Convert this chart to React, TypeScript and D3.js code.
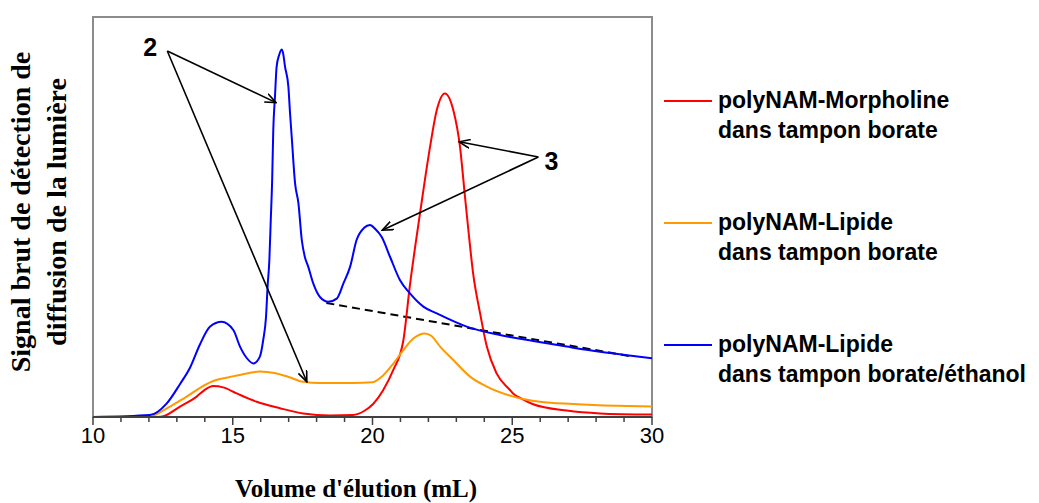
import React from "react";
import * as d3 from "d3";

// ---- data (elution volume in mL, raw light-scattering signal in arbitrary units 0..100) ----
const xTicksMajor = [10, 15, 20, 25, 30];
const xTicksMinor = d3.range(10, 31, 1);

const morpholineBorateVol = [12.3, 12.52, 13.11, 13.71, 14.0, 14.3, 14.66, 15.14, 15.86, 16.69, 17.52, 18.48, 19.3, 19.7, 20.03, 20.38, 20.74, 21.1, 21.34, 21.7, 22.06, 22.3, 22.59, 22.89, 23.13, 23.31, 23.43, 23.6, 23.85, 24.09, 24.44, 24.92, 25.04, 25.28, 25.75, 26.95, 28.14, 30];
const morpholineBorateSig = [0, 0.2, 2.6, 5.1, 6.8, 7.75, 7.4, 5.9, 3.8, 2.2, 0.9, 0.4, 0.5, 1.5, 3.3, 6.7, 11.7, 19, 33, 50.9, 67.6, 76.75, 80.9, 76.75, 67.6, 55, 46.75, 35.9, 25.9, 17.6, 10.9, 6.75, 5.8, 4.8, 3.2, 1.6, 0.9, 0.6];

const lipideBorateVol = [12.1, 12.75, 13.35, 13.83, 14.3, 14.9, 15.5, 15.97, 16.5, 17.0, 17.52, 18.12, 19.3, 20.0, 20.38, 20.74, 21.1, 21.46, 21.88, 22.1, 22.42, 22.89, 23.49, 24.09, 25.04, 25.99, 27.18, 28.73, 30];
const lipideBorateSig = [0, 2.6, 5.1, 7.3, 9, 10, 10.9, 11.4, 11, 10, 8.8, 8.5, 8.5, 8.7, 10.4, 13.3, 16.7, 19.6, 20.9, 20.3, 17.6, 14.25, 10.1, 7.6, 5.1, 3.8, 3.25, 2.8, 2.6];

const lipideEthanolVol = [10, 12.04, 12.64, 13.11, 13.47, 13.83, 14.19, 14.6, 15.02, 15.26, 15.5, 15.74, 15.97, 16.09, 16.19, 16.25, 16.31, 16.36, 16.41, 16.45, 16.51, 16.57, 16.66, 16.75, 16.8, 16.87, 16.99, 17.05, 17.11, 17.23, 17.35, 17.47, 17.58, 17.7, 17.88, 18.12, 18.42, 18.72, 18.96, 19.2, 19.43, 19.7, 19.91, 20.1, 20.33, 20.63, 20.98, 21.34, 21.82, 22.3, 23.37, 24.56, 25.75, 26.95, 28.14, 29.33, 30];
const lipideEthanolSig = [0, 0.5, 3.4, 8.2, 12.3, 18.2, 22.6, 23.8, 21.75, 17.6, 14.75, 13.4, 15.1, 19.25, 25, 33, 39.25, 49.25, 59.25, 71.75, 80, 87.6, 90.5, 91.9, 91, 87.6, 82.6, 75.9, 70, 58.4, 53.4, 44.25, 40, 37.6, 33.4, 30, 28.8, 29.6, 33.4, 37.6, 44.25, 47.3, 48, 47, 45, 40, 34.25, 30.9, 27.6, 25.9, 22.6, 20.5, 19.0, 17.6, 16.3, 15.25, 14.7];

const baselineVol = [18.35, 29.3];
const baselineSig = [28.5, 15.1];

const seriesNames = [
  ["polyNAM-Morpholine", "dans tampon borate"],
  ["polyNAM-Lipide", "dans tampon borate"],
  ["polyNAM-Lipide", "dans tampon borate/éthanol"],
];
const seriesColors = ["#FF0000", "#FF9900", "#0000FF"];

// annotation anchors (data coordinates)
const label2 = { text: "2", vol: 12.05, sig: 92.5 };
const arrows2 = [
  { vol: 16.55, sig: 78.6 },
  { vol: 17.65, sig: 8.8 },
];
const label3 = { text: "3", vol: 26.4, sig: 64 };
const arrows3 = [
  { vol: 23.1, sig: 68.8 },
  { vol: 20.35, sig: 46.7 },
];

const W = 1039;
const H = 503;
const M = { left: 93, right: 652, top: 17, bottom: 417 };

export default function App() {
  const x = d3.scaleLinear().domain([10, 30]).range([M.left, M.right]);
  const y = d3.scaleLinear().domain([0, 100]).range([M.bottom, M.top]);

  const line = d3
    .line<[number, number]>()
    .x((d) => x(d[0]))
    .y((d) => y(d[1]))
    .curve(d3.curveMonotoneX);

  const zip = (a: number[], b: number[]) => a.map((v, i) => [v, b[i]] as [number, number]);

  const curves = [
    zip(morpholineBorateVol, morpholineBorateSig),
    zip(lipideBorateVol, lipideBorateSig),
    zip(lipideEthanolVol, lipideEthanolSig),
  ];

  const sans = "'Liberation Sans', Arial, sans-serif";
  const serif = "'Liberation Serif', 'Times New Roman', serif";

  const l2x = x(label2.vol);
  const l2y = y(label2.sig);
  const a2sx = l2x + 17;
  const a2sy = l2y + 4;
  const l3x = x(label3.vol);
  const l3y = y(label3.sig);
  const a3sx = l3x - 13;
  const a3sy = l3y - 4;

  const legendY = [101, 223, 345];

  return (
    <svg
      width={W}
      height={H}
      style={{ position: "absolute", left: 0, top: 0, background: "#fff" }}
    >
      <defs>
        <marker
          id="arr"
          viewBox="0 0 12 10"
          refX="11"
          refY="5"
          markerWidth="12"
          markerHeight="10"
          markerUnits="userSpaceOnUse"
          orient="auto"
        >
          <path d="M0,0.5 L11,5 L0,9.5" fill="none" stroke="#000" strokeWidth="1.6" />
        </marker>
        <clipPath id="plotClip">
          <rect x={M.left} y={M.top - 5} width={M.right - M.left} height={M.bottom - M.top + 6} />
        </clipPath>
      </defs>

      {/* frame */}
      <rect
        x={M.left}
        y={M.top}
        width={M.right - M.left}
        height={M.bottom - M.top}
        fill="none"
        stroke="#8c8c8c"
        strokeWidth={2}
      />

      {/* curves */}
      <g clipPath="url(#plotClip)">
        <path
          d={line(zip(baselineVol, baselineSig)) || ""}
          fill="none"
          stroke="#000"
          strokeWidth={2}
          strokeDasharray="8,5"
        />
        {curves.map((c, i) => (
          <path key={i} d={line(c) || ""} fill="none" stroke={seriesColors[i]} strokeWidth={2} />
        ))}
      </g>

      {/* x axis */}
      <line x1={M.left} x2={M.right} y1={M.bottom} y2={M.bottom} stroke="#404040" strokeWidth={2} />
      {xTicksMinor.map((t) => (
        <line
          key={"m" + t}
          x1={x(t)}
          x2={x(t)}
          y1={M.bottom}
          y2={M.bottom + (xTicksMajor.includes(t) ? 8 : 5)}
          stroke="#404040"
          strokeWidth={1.5}
        />
      ))}
      {xTicksMajor.map((t) => (
        <text
          key={"l" + t}
          x={x(t)}
          y={443}
          textAnchor="middle"
          fontFamily={sans}
          fontSize={22}
          fill="#000"
        >
          {t}
        </text>
      ))}
      <text
        x={356}
        y={497}
        textAnchor="middle"
        fontFamily={serif}
        fontWeight="bold"
        fontSize={25}
        fill="#000"
      >
        Volume d'élution (mL)
      </text>

      {/* y axis title */}
      <g transform="translate(30,212) rotate(-90)">
        <text x={0} y={0} textAnchor="middle" fontFamily={serif} fontWeight="bold" fontSize={28} fill="#000">
          Signal brut de détection de
        </text>
        <text x={0} y={36} textAnchor="middle" fontFamily={serif} fontWeight="bold" fontSize={28} fill="#000">
          diffusion de la lumière
        </text>
      </g>

      {/* annotations */}
      <text x={l2x} y={l2y + 9} textAnchor="middle" fontFamily={sans} fontWeight="bold" fontSize={25}>
        {label2.text}
      </text>
      {arrows2.map((a, i) => (
        <line
          key={"a2" + i}
          x1={a2sx}
          y1={a2sy}
          x2={x(a.vol)}
          y2={y(a.sig)}
          stroke="#000"
          strokeWidth={1.6}
          markerEnd="url(#arr)"
        />
      ))}
      <text x={l3x} y={l3y + 9} textAnchor="middle" fontFamily={sans} fontWeight="bold" fontSize={25}>
        {label3.text}
      </text>
      {arrows3.map((a, i) => (
        <line
          key={"a3" + i}
          x1={a3sx}
          y1={a3sy}
          x2={x(a.vol)}
          y2={y(a.sig)}
          stroke="#000"
          strokeWidth={1.6}
          markerEnd="url(#arr)"
        />
      ))}

      {/* legend */}
      {seriesNames.map((n, i) => (
        <g key={"lg" + i}>
          <line x1={664} x2={712} y1={legendY[i]} y2={legendY[i]} stroke={seriesColors[i]} strokeWidth={2} />
          <text x={718} y={legendY[i] + 7} fontFamily={sans} fontWeight="bold" fontSize={23} fill="#000">
            {n[0]}
          </text>
          <text x={718} y={legendY[i] + 37} fontFamily={sans} fontWeight="bold" fontSize={23} fill="#000">
            {n[1]}
          </text>
        </g>
      ))}
    </svg>
  );
}
